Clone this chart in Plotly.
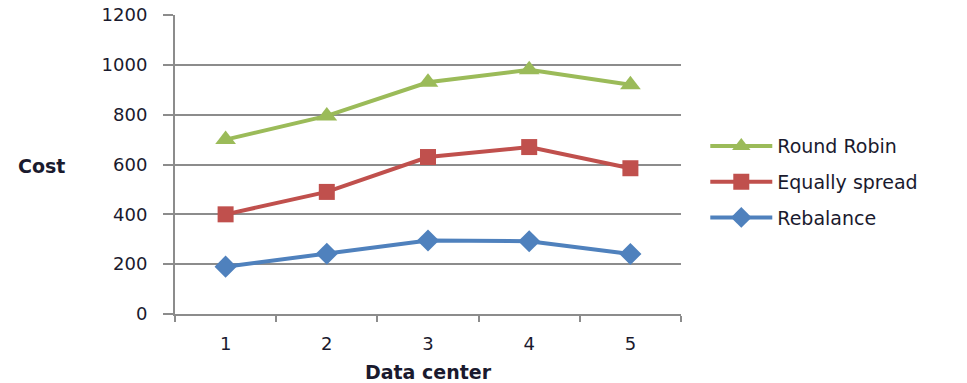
import plotly.graph_objects as go

# Cost per data center for three load-balancing policies
data_centers = ["1", "2", "3", "4", "5"]
round_robin = [700, 795, 930, 980, 920]
equally_spread = [400, 490, 630, 670, 585]
rebalance = [190, 242, 295, 292, 241]
y_ticks = [0, 200, 400, 600, 800, 1000, 1200]

W, H = 967, 383
L, R, T, B = 175, 286, 15, 69

font_family = "DejaVu Sans"
text_color = "#1a1a2e"
grid_color = "#8c8c8c"

fig = go.Figure()

series = [
    ("Round Robin", round_robin, "#9BBB59", "triangle-up", 18),
    ("Equally spread", equally_spread, "#C0504D", "square", 16),
    ("Rebalance", rebalance, "#4F81BD", "diamond", 17),
]
for name, vals, color, symbol, size in series:
    fig.add_trace(go.Scatter(
        x=data_centers, y=vals, name=name, mode="lines+markers",
        legendgroup=name,
        line=dict(color=color, width=4),
        marker=dict(symbol=symbol, size=size, color=color),
    ))

fig.update_layout(
    width=W, height=H,
    margin=dict(l=L, r=R, t=T, b=B, autoexpand=False),
    paper_bgcolor="white", plot_bgcolor="white",
    font=dict(family=font_family, size=18, color=text_color),
    showlegend=True,
    legend=dict(
        x=1.048, y=0.625, xanchor="left", yanchor="top",
        font=dict(size=19, color=text_color),
        itemwidth=62, tracegroupgap=8,
        bgcolor="rgba(0,0,0,0)",
    ),
    xaxis=dict(
        type="category", range=[-0.5, 4.5], automargin=False,
        showgrid=False, showline=True, linecolor=grid_color, linewidth=2,
        ticks="outside", tickson="boundaries", ticklen=6, tickwidth=2,
        tickcolor=grid_color, ticklabelstandoff=12,
        tickfont=dict(size=18, color=text_color),
        title=dict(text="<b>Data center</b>", standoff=16,
                   font=dict(size=19, color=text_color)),
        zeroline=False,
    ),
    yaxis=dict(
        range=[0, 1200], tickvals=y_ticks, automargin=False,
        showgrid=True, gridcolor=grid_color, gridwidth=1.5,
        showline=True, linecolor=grid_color, linewidth=2,
        ticks="outside", ticklen=10, tickwidth=2, tickcolor=grid_color,
        ticklabelstandoff=12,
        tickfont=dict(size=18, color=text_color),
        zeroline=False,
    ),
    annotations=[dict(
        text="<b>Cost</b>", xref="paper", yref="paper",
        x=(41 - L) / (W - L - R), y=(H - B - 166) / (H - T - B),
        xanchor="center", yanchor="middle", showarrow=False,
        font=dict(size=19, color=text_color),
    )],
)

fig.write_html("out.html")
